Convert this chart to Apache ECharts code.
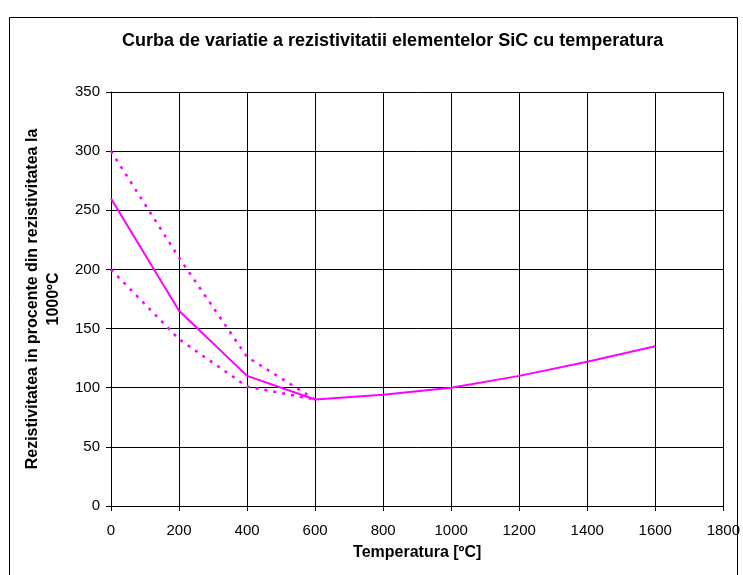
<!DOCTYPE html>
<html>
<head>
<meta charset="utf-8">
<script src="https://cdn.jsdelivr.net/npm/echarts@6/dist/echarts.min.js"></script>
<style>html,body{margin:0;padding:0;background:#fff;}#c{width:743px;height:575px;}</style>
</head>
<body>
<div id="c"></div>
<script>
var tempMain = [0, 200, 400, 600, 800, 1000, 1200, 1400, 1600];
var resMain = [260, 165, 110, 90, 94, 100, 110, 122, 135];
var tempUpper = [0, 200, 400, 600];
var resUpper = [300, 210, 126, 90];
var tempLower = [0, 200, 400, 600];
var resLower = [200, 141, 101, 90];

function pairs(xs, ys) { return xs.map(function (x, i) { return [x, ys[i]]; }); }

var font = 'Liberation Sans, Arial, sans-serif';
var chart = echarts.init(document.getElementById('c'), null, {renderer: 'canvas'});
chart.setOption({
  animation: false,
  backgroundColor: '#fff',
  title: {
    text: 'Curba de variatie a rezistivitatii elementelor SiC cu temperatura',
    left: 117, top: 27,
    textStyle: {fontFamily: font, fontSize: 18, fontWeight: 'bold', color: '#000'}
  },
  graphic: [{
    type: 'rect', shape: {x: 9.5, y: 17.5, width: 728, height: 600},
    style: {fill: 'none', stroke: '#000', lineWidth: 1}
  }],
  grid: {left: 111, right: 17, top: 92, bottom: 69, containLabel: false},
  xAxis: {
    type: 'value', min: 0, max: 1800, interval: 200,
    name: 'Temperatura [ºC]', nameLocation: 'middle', nameGap: 39,
    nameTextStyle: {fontFamily: font, fontSize: 16, fontWeight: 'bold', color: '#000'},
    axisLine: {lineStyle: {color: '#000', width: 1}},
    axisTick: {show: true, length: 5, lineStyle: {color: '#000'}},
    axisLabel: {fontFamily: font, fontSize: 15, color: '#000', margin: 17,
      formatter: function (v) { return String(v); }},
    splitLine: {show: true, lineStyle: {color: '#000', width: 1}}
  },
  yAxis: {
    type: 'value', min: 0, max: 350, interval: 50,
    name: 'Rezistivitatea in procente din rezistivitatea la\n1000ºC',
    nameLocation: 'middle', nameGap: 36,
    nameTextStyle: {fontFamily: font, fontSize: 16, fontWeight: 'bold', color: '#000', lineHeight: 21, align: 'center'},
    axisLine: {show: true, lineStyle: {color: '#000', width: 1}},
    axisTick: {show: true, length: 5, lineStyle: {color: '#000'}},
    axisLabel: {fontFamily: font, fontSize: 15, color: '#000', margin: 11},
    splitLine: {show: true, lineStyle: {color: '#000', width: 1}}
  },
  series: [
    {type: 'line', data: pairs(tempMain, resMain), symbol: 'none',
     lineStyle: {color: '#FF00FF', width: 2}},
    {type: 'line', data: pairs(tempUpper, resUpper), symbol: 'none',
     lineStyle: {color: '#FF00FF', width: 2.5, type: [3, 6]}},
    {type: 'line', data: pairs(tempLower, resLower), symbol: 'none',
     lineStyle: {color: '#FF00FF', width: 2.5, type: [3, 6]}}
  ]
});
</script>
</body>
</html>
